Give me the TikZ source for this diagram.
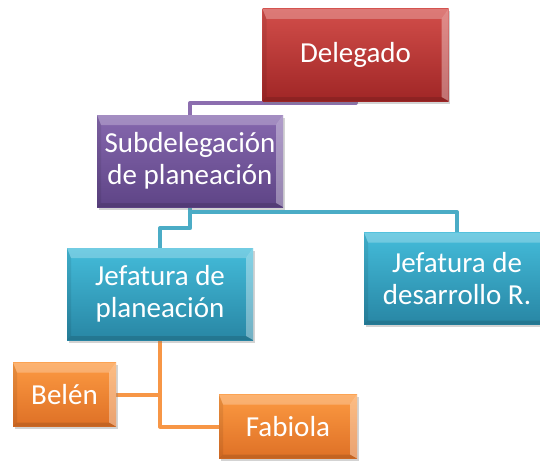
\documentclass[tikz,border=0pt]{standalone}
\usepackage{fontspec}
\setmainfont{Carlito}
\usetikzlibrary{shadows,backgrounds}

\definecolor{rojoA}{RGB}{210,78,74}
\definecolor{rojoB}{RGB}{160,38,38}
\definecolor{moradoA}{RGB}{134,104,174}
\definecolor{moradoB}{RGB}{94,68,134}
\definecolor{azulA}{RGB}{68,188,218}
\definecolor{azulB}{RGB}{40,134,164}
\definecolor{naranjaA}{RGB}{252,154,66}
\definecolor{naranjaB}{RGB}{222,112,38}
\definecolor{lineamorado}{RGB}{140,110,175}
\definecolor{lineaazul}{RGB}{75,172,198}
\definecolor{lineanaranja}{RGB}{247,150,70}

\tikzset{
  caja/.style={rectangle, inner sep=0pt, text=white, align=center,
    font=\fontsize{29}{32}\selectfont,
    drop shadow={opacity=0.35, shadow xshift=1.5pt, shadow yshift=-2.5pt},
    path picture={
      \fill[white,opacity=0.25] (path picture bounding box.north west) -- (path picture bounding box.north east)
        -- ([xshift=-7pt,yshift=-10pt]path picture bounding box.north east) -- ([xshift=4pt,yshift=-10pt]path picture bounding box.north west) -- cycle;
      \fill[white,opacity=0.35] (path picture bounding box.north east) -- (path picture bounding box.south east)
        -- ([xshift=-7pt,yshift=4pt]path picture bounding box.south east) -- ([xshift=-7pt,yshift=-10pt]path picture bounding box.north east) -- cycle;
      \fill[black,opacity=0.12] (path picture bounding box.south east) -- (path picture bounding box.south west)
        -- ([xshift=4pt,yshift=4pt]path picture bounding box.south west) -- ([xshift=-7pt,yshift=4pt]path picture bounding box.south east) -- cycle;
      \fill[black,opacity=0.08] (path picture bounding box.south west) -- (path picture bounding box.north west)
        -- ([xshift=4pt,yshift=-10pt]path picture bounding box.north west) -- ([xshift=4pt,yshift=4pt]path picture bounding box.south west) -- cycle;
    }},
  grande/.style={caja, minimum width=186pt, minimum height=92pt},
  delbox/.style={grande, top color=rojoA, bottom color=rojoB},
  subbox/.style={grande, top color=moradoA, bottom color=moradoB},
  jefbox/.style={grande, top color=azulA, bottom color=azulB},
  perbox/.style={caja, minimum height=64pt, top color=naranjaA, bottom color=naranjaB},
  linea/.style={line width=4pt, line join=round}
}

\begin{document}
\begin{tikzpicture}[x=1pt,y=-1pt]
\useasboundingbox (0,0) rectangle (540,460);
%cajas
\node[delbox] (del) at (355.5,55) {Delegado};
\node[subbox] (sub) at (190,161) {Subdelegación\\de planeación};
\node[jefbox] (jp) at (160,294) {Jefatura de\\planeación};
\node[jefbox] (jd) at (457,278.5) {Jefatura de\\desarrollo R.};
\node[perbox, minimum width=103pt] (bel) at (64.5,394.5) {Belén};
\node[perbox, minimum width=138pt] (fab) at (288,426.5) {Fabiola};
%conectores
\begin{pgfonlayer}{background}
\draw[linea, lineamorado] (del.south) -- ++(0,2) -| (sub.north);
\draw[linea, lineaazul] (sub.south) -- ++(0,5) -| (jd.north);
\draw[linea, lineaazul] (sub.south) -- ++(0,21) -| (jp.north);
\draw[linea, lineanaranja] (jp.south) |- (fab.west);
\draw[linea, lineanaranja] (bel.east) -- (bel.east -| jp.south);
\end{pgfonlayer}
\end{tikzpicture}
\end{document}
